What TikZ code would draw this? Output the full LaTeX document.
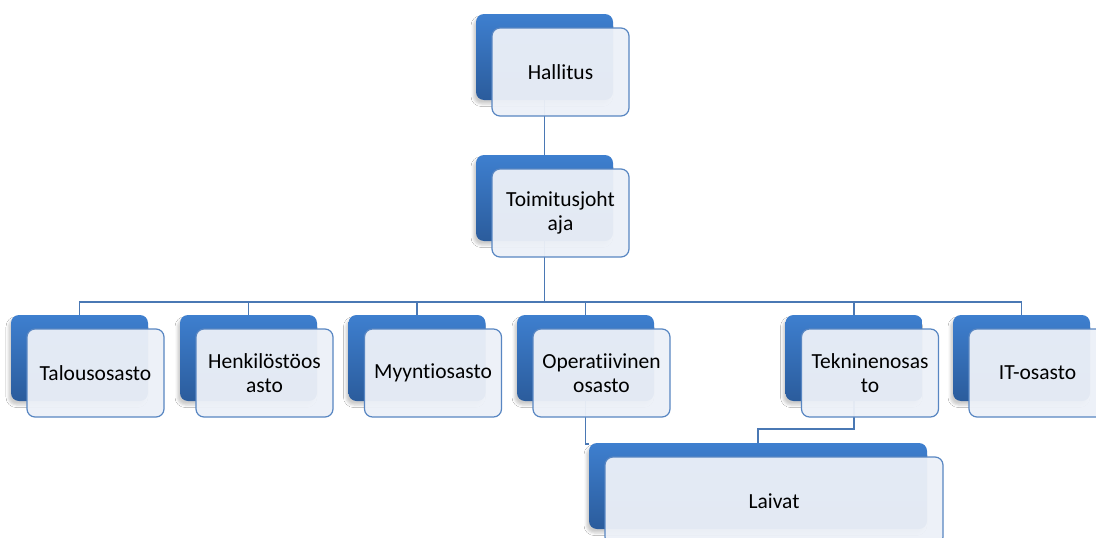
\documentclass[tikz,border=0pt]{standalone}
\usepackage{fontspec}
\setmainfont{Carlito}[Ligatures={NoCommon}]
\usetikzlibrary{backgrounds,shadows.blur}
\definecolor{bktop}{HTML}{3E7FCF}
\definecolor{bkbot}{HTML}{2B5C9C}
\definecolor{frfill}{HTML}{EDF1F8}
\definecolor{frline}{HTML}{5886C2}
\definecolor{connc}{HTML}{4A78B4}
\tikzset{
 backbox/.style={draw=none, rounded corners=8pt, top color=bktop, bottom color=bkbot,
   minimum height=86pt, inner sep=0pt,
   blur shadow={shadow xshift=-2.5pt, shadow yshift=-4pt, shadow opacity=20, shadow blur radius=2.5pt}},
 frontbox/.style={draw=frline, line width=1.2pt, fill=frfill, fill opacity=0.95, text opacity=1,
   rounded corners=8pt, minimum height=88pt, inner sep=0pt, align=center,
   font=\fontsize{21.5}{24}\selectfont, text=black},
 connline/.style={draw=connc, line width=1.8pt}
}
\newcommand\orgbox[4][137pt]{%
  \node[backbox, minimum width=#1] (#2) at (#3) {};
  \node[frontbox, minimum width=#1] (#2-f) at ([xshift=16pt,yshift=-15pt]#2.center) {#4};
}
\begin{document}
\begin{tikzpicture}[x=1pt,y=-1pt]
\useasboundingbox (0,0) rectangle (1096,538);
\orgbox{hal}{544.5,57}{Hallitus}
\orgbox{tj}{544.5,198}{Toimitusjoht\\aja}
\orgbox{tal}{79.5,358}{Talousosasto}
\orgbox{hen}{248.5,358}{Henkilöstöos\\asto}
\orgbox{myy}{417,358}{Myyntiosasto}
\orgbox{ope}{585.5,358}{Operatiivinen\\osasto}
\orgbox{tek}{854,358}{Tekninenosas\\to}
\orgbox{it}{1021.5,358}{IT-osasto}
\orgbox[338pt]{lai}{758,486}{Laivat}
\coordinate (bus) at (0,302);
\coordinate (tl) at (0,429);
\begin{scope}[on background layer]
\fill[white] (0,0) rectangle (1096,538);
\draw[connline] (hal.south) -- (tj.north);
\foreach \c in {tal,hen,myy,ope,tek,it}
  \draw[connline] (tj.south) -- (tj.south |- bus) -| (\c.north);
\draw[connline] (ope.south) |- ([yshift=-1.5pt]lai.north west);
\draw[connline] (tek.south) -- (tek.south |- tl) -| (lai.north);
\end{scope}
\end{tikzpicture}
\end{document}
